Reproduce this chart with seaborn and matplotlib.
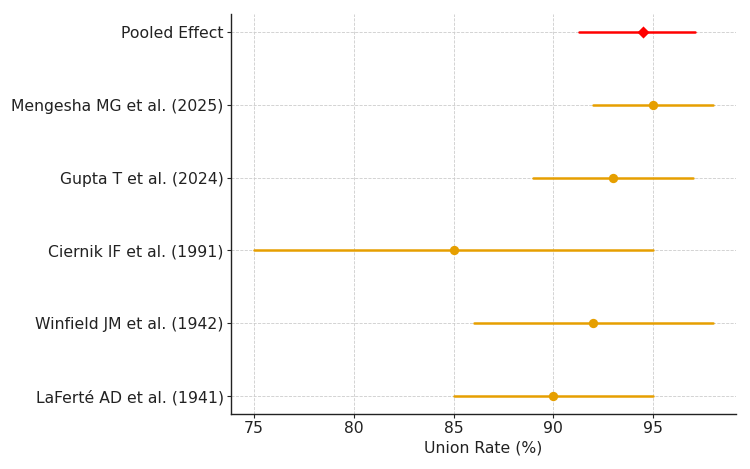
import matplotlib
matplotlib.use("Agg")
import matplotlib.pyplot as plt
import seaborn as sns
import pandas as pd

studies = ["LaFerté AD et al. (1941)", "Winfield JM et al. (1942)", "Ciernik IF et al. (1991)",
           "Gupta T et al. (2024)", "Mengesha MG et al. (2025)"]
rates = [90, 92, 85, 93, 95]
lower = [85, 86, 75, 89, 92]
upper = [95, 98, 95, 97, 98]
pooled_label = "Pooled Effect"
pooled_rate = 94.5
pooled_lower = 91.3
pooled_upper = 97.1

sns.set_theme(style="ticks")
plt.rcParams['font.family'] = ['DejaVu Sans']

fs = 11.25
fig = plt.figure(figsize=(7.5, 4.69), dpi=100)
ax = fig.add_axes([231/750, 1-414/469, (736-231)/750, (414-14)/469])

df = pd.DataFrame({"study": studies, "rate": rates, "lo": lower, "hi": upper, "y": range(len(studies))})
orange = "#E69F00"
for _, r in df.iterrows():
    ax.plot([r.lo, r.hi], [r.y, r.y], color=orange, lw=1.8, zorder=2)
sns.scatterplot(data=df, x="rate", y="y", color=orange, s=45, edgecolor=orange, linewidth=0, ax=ax, zorder=3)

py = len(studies)
ax.plot([pooled_lower, pooled_upper], [py, py], color="red", lw=1.8, zorder=2)
ax.scatter([pooled_rate], [py], marker="D", color="red", s=38, linewidths=0, zorder=3)

ax.set_yticks(list(range(len(studies))) + [py])
ax.set_yticklabels(studies + [pooled_label], fontsize=fs, color="#222222")
ax.set_xticks([75, 80, 85, 90, 95])
ax.tick_params(axis="x", labelsize=fs, colors="#222222")
ax.tick_params(axis="both", length=2.6, width=0.8, pad=2.6)
ax.set_xlabel("Union Rate (%)", fontsize=fs, color="#222222", labelpad=3)
ax.set_ylabel("")
ax.grid(True, linestyle="--", color="#cccccc", linewidth=0.6)
ax.set_axisbelow(True)
ax.set_xlim(73.85, 99.15)
ax.set_ylim(-0.25, py + 0.25)
sns.despine(ax=ax)
for s in ["left", "bottom"]:
    ax.spines[s].set_color("#222222")
    ax.spines[s].set_linewidth(1)

fig.savefig("out.png", dpi=100)
